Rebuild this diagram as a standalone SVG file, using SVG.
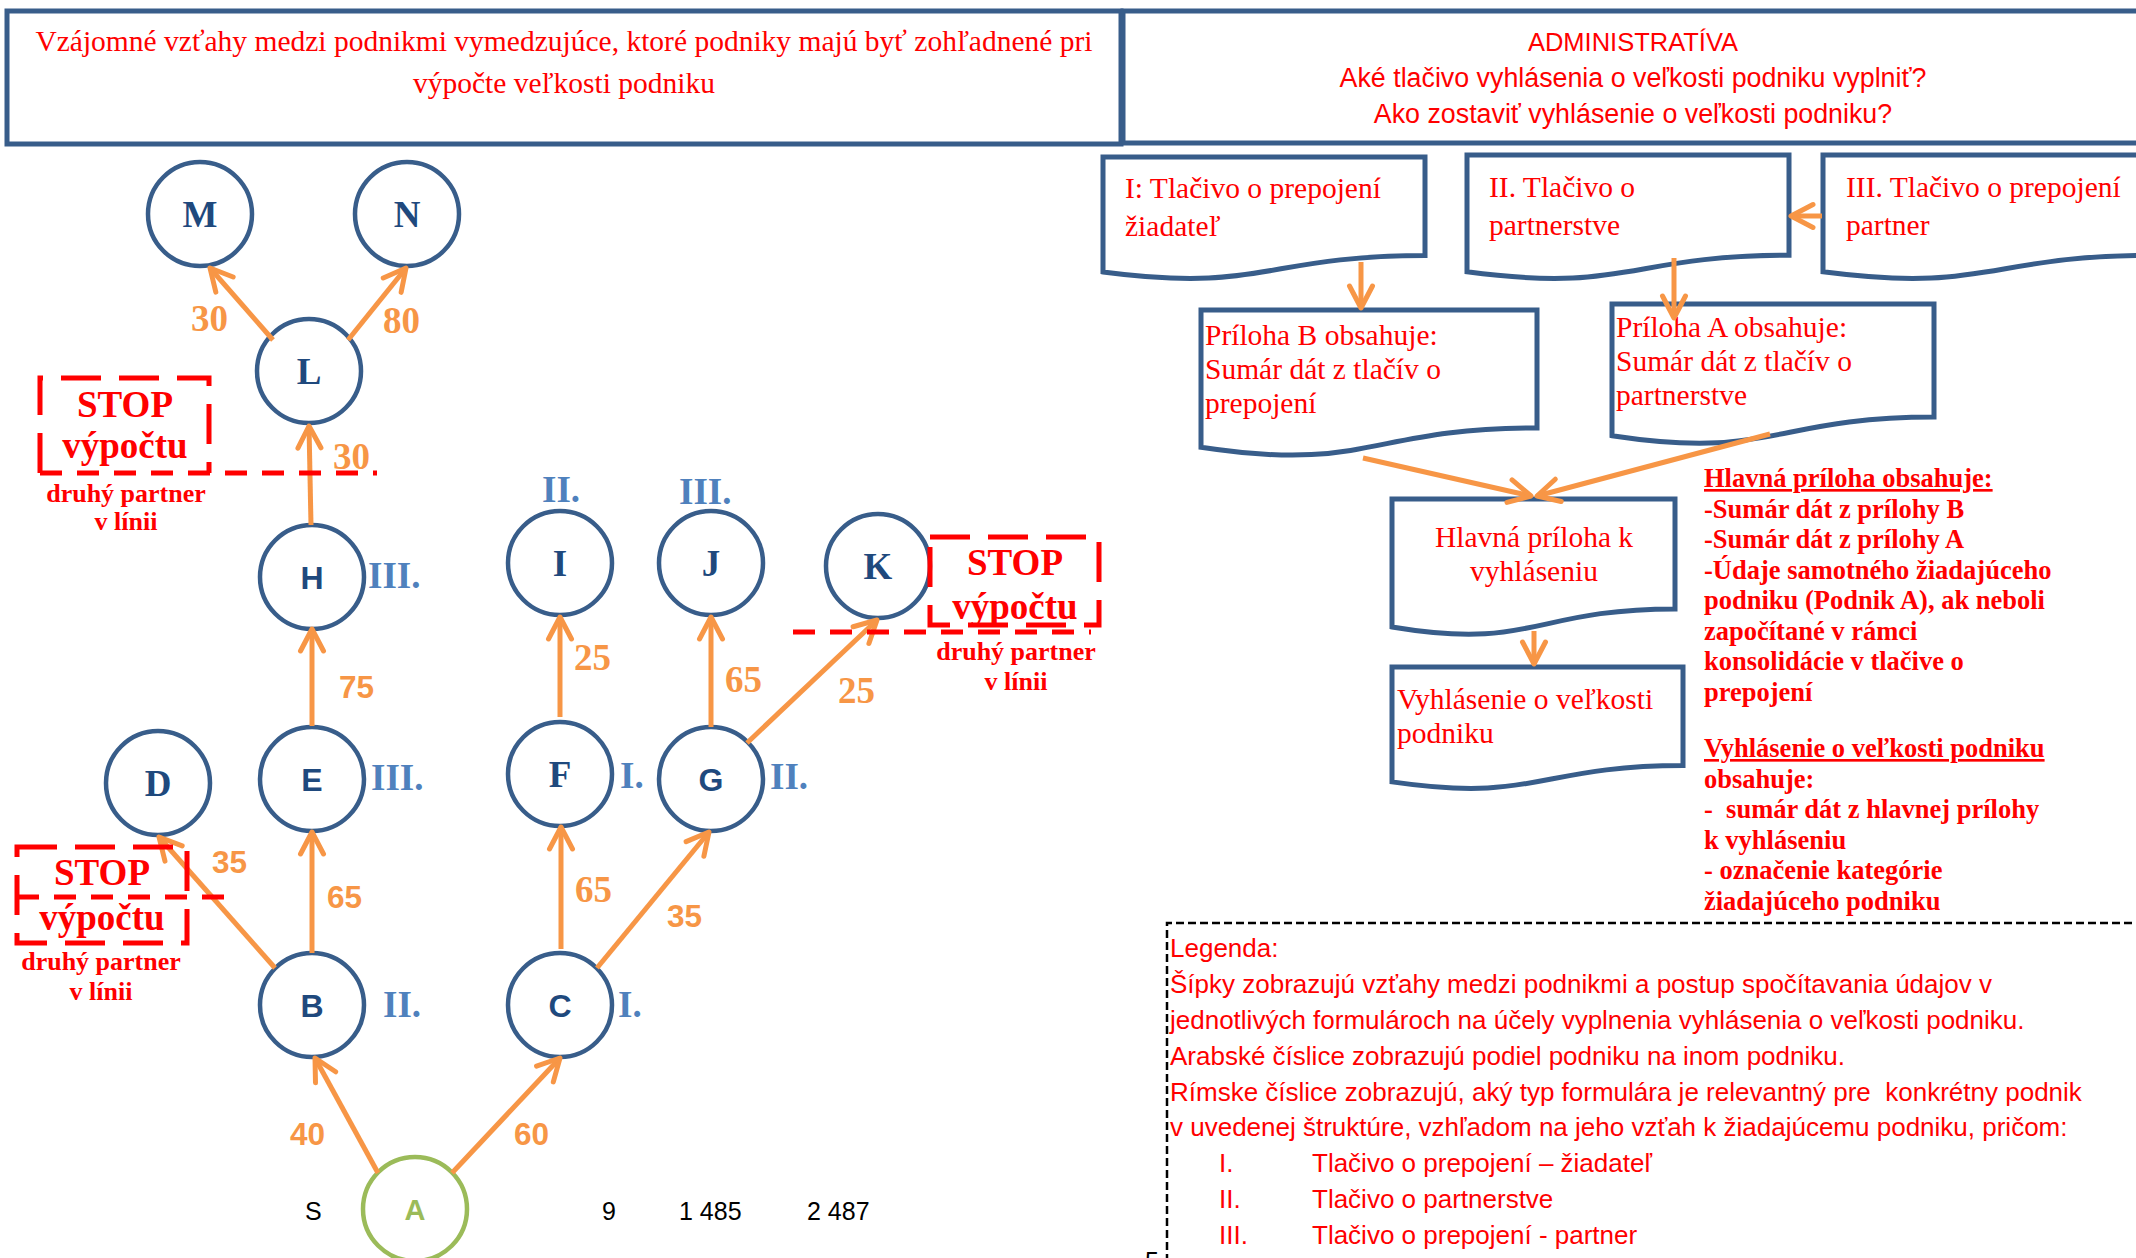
<svg xmlns="http://www.w3.org/2000/svg" width="2136" height="1258" viewBox="0 0 2136 1258">
<style>
.hdr{fill:none;stroke:#385d8a;stroke-width:5}
.doc{fill:#fff;stroke:#385d8a;stroke-width:5}
.nc{fill:#fff;stroke:#385d8a;stroke-width:4.5}
.na{fill:#fff;stroke:#9bbb59;stroke-width:4.5}
.lt{font-family:"Liberation Serif",serif;font-weight:bold;font-size:37px;fill:#1f497d;text-anchor:middle}
.ls{font-family:"Liberation Sans",sans-serif;font-weight:bold;font-size:32px;fill:#1f497d;text-anchor:middle}
.rn{font-family:"Liberation Serif",serif;font-weight:bold;font-size:37px;fill:#4f81bd}
.edge{stroke:#f79646;stroke-width:5;fill:none;marker-end:url(#ah)}
.et{font-family:"Liberation Serif",serif;font-weight:bold;font-size:37px;fill:#f79646}
.es{font-family:"Liberation Sans",sans-serif;font-weight:bold;font-size:31.5px;fill:#f79646}
.sr{fill:none;stroke:#ff0000;stroke-width:5;stroke-dasharray:40 18}
.sl{fill:none;stroke:#ff0000;stroke-width:5;stroke-dasharray:22 15}
.st{font-family:"Liberation Serif",serif;font-weight:bold;font-size:37px;fill:#ff0000;text-anchor:middle}
.ss{font-family:"Liberation Serif",serif;font-weight:bold;font-size:26px;fill:#ff0000;text-anchor:middle}
.serif{font-family:"Liberation Serif",serif;font-size:29.5px;fill:#ff0000}
.sans{font-family:"Liberation Sans",sans-serif;font-size:26px;fill:#ff0000}
.rb{font-family:"Liberation Serif",serif;font-weight:bold;font-size:26.5px;fill:#ff0000}
.blk{font-family:"Liberation Sans",sans-serif;font-size:25px;fill:#000}
</style>
<defs>
<marker id="ah" markerUnits="userSpaceOnUse" markerWidth="50" markerHeight="50" viewBox="-30 -25 50 50" refX="0" refY="0" orient="auto" overflow="visible">
<path d="M-22,-11.5 L0,0 L-22,11.5" fill="none" stroke="#f79646" stroke-width="5" stroke-linecap="round" stroke-linejoin="round"/>
</marker>
</defs>
<rect width="2136" height="1258" fill="#fff"/>

<g id="header-left">
<rect class="hdr" x="7" y="11" width="1114" height="133"/>
<text class="serif" x="564" y="51" text-anchor="middle">Vzájomné vzťahy medzi podnikmi vymedzujúce, ktoré podniky majú byť zohľadnené pri</text>
<text class="serif" x="564" y="93" text-anchor="middle">výpočte veľkosti podniku</text>
</g>
<g id="header-right">
<rect class="hdr" x="1123" y="11" width="1030" height="132"/>
<text class="sans" x="1633" y="51" text-anchor="middle" style="font-size:25.5px">ADMINISTRATÍVA</text>
<text class="sans" x="1633" y="87" text-anchor="middle" style="font-size:26.8px">Aké tlačivo vyhlásenia o veľkosti podniku vyplniť?</text>
<text class="sans" x="1633" y="123" text-anchor="middle" style="font-size:26.8px">Ako zostaviť vyhlásenie o veľkosti podniku?</text>
</g>

<g id="doc-I">
<path class="doc" d="M1103,157 H1425 V255.6 C1264,255.6 1264,293.2 1103,271.9 Z"/>
<text class="serif" x="1125" y="198">I: Tlačivo o prepojení</text>
<text class="serif" x="1125" y="236">žiadateľ</text>
</g>
<g id="doc-II">
<path class="doc" d="M1467,155 H1789 V255.3 C1628,255.3 1628,293.4 1467,271.8 Z"/>
<text class="serif" x="1489" y="197">II. Tlačivo o</text>
<text class="serif" x="1489" y="235">partnerstve</text>
</g>
<g id="doc-III">
<path class="doc" d="M1823,155 H2153 V255.3 C1988,255.3 1988,293.4 1823,271.8 Z"/>
<text class="serif" x="1846" y="197">III. Tlačivo o prepojení</text>
<text class="serif" x="1846" y="235">partner</text>
</g>
<g id="priloha-B">
<path class="doc" d="M1201,310 H1537 V427.9 C1369,427.9 1369,472.8 1201,447.3 Z"/>
<text class="serif" x="1205" y="345">Príloha B obsahuje:</text>
<text class="serif" x="1205" y="379">Sumár dát z tlačív o</text>
<text class="serif" x="1205" y="413">prepojení</text>
</g>
<g id="priloha-A">
<path class="doc" d="M1612,304 H1934 V417.1 C1773,417.1 1773,460.2 1612,435.7 Z"/>
<text class="serif" x="1616" y="337">Príloha A obsahuje:</text>
<text class="serif" x="1616" y="371">Sumár dát z tlačív o</text>
<text class="serif" x="1616" y="405">partnerstve</text>
</g>
<g id="hlavna-priloha">
<path class="doc" d="M1392,499 H1675 V608.9 C1533.5,608.9 1533.5,650.7 1392,627 Z"/>
<text class="serif" x="1534" y="547" text-anchor="middle">Hlavná príloha k</text>
<text class="serif" x="1534" y="581" text-anchor="middle">vyhláseniu</text>
</g>
<g id="vyhlasenie">
<path class="doc" d="M1392,667 H1683 V765.6 C1537.5,765.6 1537.5,803.2 1392,781.9 Z"/>
<text class="serif" x="1397" y="709">Vyhlásenie o veľkosti</text>
<text class="serif" x="1397" y="743">podniku</text>
</g>

<g id="node-M"><circle class="nc" cx="200" cy="214" r="52"/><text class="lt" x="200" y="227">M</text></g>
<g id="node-N"><circle class="nc" cx="407" cy="214" r="52"/><text class="lt" x="407" y="227">N</text></g>
<g id="node-L"><circle class="nc" cx="309" cy="371" r="52"/><text class="lt" x="309" y="384">L</text></g>
<g id="node-H"><circle class="nc" cx="312" cy="577" r="52"/><text class="ls" x="312" y="589">H</text></g>
<g id="node-E"><circle class="nc" cx="312" cy="779" r="52"/><text class="ls" x="312" y="791">E</text></g>
<g id="node-D"><circle class="nc" cx="158" cy="783" r="52"/><text class="lt" x="158" y="796">D</text></g>
<g id="node-B"><circle class="nc" cx="312" cy="1005" r="52"/><text class="ls" x="312" y="1017">B</text></g>
<g id="node-C"><circle class="nc" cx="560" cy="1005" r="52"/><text class="ls" x="560" y="1017">C</text></g>
<g id="node-F"><circle class="nc" cx="560" cy="774" r="52"/><text class="lt" x="560" y="787">F</text></g>
<g id="node-G"><circle class="nc" cx="711" cy="779" r="52"/><text class="ls" x="711" y="791">G</text></g>
<g id="node-I"><circle class="nc" cx="560" cy="563" r="52"/><text class="lt" x="560" y="576">I</text></g>
<g id="node-J"><circle class="nc" cx="711" cy="563" r="52"/><text class="lt" x="711" y="576">J</text></g>
<g id="node-K"><circle class="nc" cx="878" cy="566" r="52"/><text class="lt" x="878" y="579">K</text></g>
<g id="node-A"><circle class="na" cx="415" cy="1209" r="52"/><text class="ls" x="415" y="1220" style="fill:#9bbb59;font-size:29px">A</text></g>

<g id="roman">
<text class="rn" x="542" y="502">II.</text>
<text class="rn" x="679" y="504">III.</text>
<text class="rn" x="368" y="588">III.</text>
<text class="rn" x="371" y="790">III.</text>
<text class="rn" x="383" y="1017">II.</text>
<text class="rn" x="618" y="1017">I.</text>
<text class="rn" x="620" y="788">I.</text>
<text class="rn" x="770" y="789">II.</text>
</g>

<g id="connectors">
<line class="edge" x1="273" y1="340" x2="210" y2="268"/>
<line class="edge" x1="348" y1="340" x2="406" y2="268"/>
<line class="edge" x1="311" y1="525" x2="309" y2="426"/>
<line class="edge" x1="312" y1="726" x2="312" y2="629"/>
<line class="edge" x1="312" y1="953" x2="312" y2="832"/>
<line class="edge" x1="275" y1="968" x2="159" y2="837"/>
<line class="edge" x1="378" y1="1173" x2="315" y2="1058"/>
<line class="edge" x1="452" y1="1173" x2="560" y2="1058"/>
<line class="edge" x1="561" y1="949" x2="561" y2="827"/>
<line class="edge" x1="597" y1="968" x2="709" y2="832"/>
<line class="edge" x1="560" y1="717" x2="560" y2="617"/>
<line class="edge" x1="711" y1="727" x2="711" y2="617"/>
<line class="edge" x1="747" y1="743" x2="877" y2="620"/>
<line class="edge" x1="1822" y1="216" x2="1791" y2="216"/>
<line class="edge" x1="1361" y1="262" x2="1361" y2="308"/>
<line class="edge" x1="1674" y1="258" x2="1674" y2="318"/>
<line class="edge" x1="1363" y1="458" x2="1531" y2="496"/>
<line class="edge" x1="1770" y1="434" x2="1537" y2="496"/>
<line class="edge" x1="1534" y1="631" x2="1534" y2="664"/>
<text class="et" x="191" y="331">30</text>
<text class="et" x="383" y="333">80</text>
<text class="et" x="333" y="469">30</text>
<text class="es" x="339" y="698">75</text>
<text class="es" x="327" y="908">65</text>
<text class="es" x="212" y="873">35</text>
<text class="es" x="290" y="1145">40</text>
<text class="es" x="514" y="1145">60</text>
<text class="et" x="575" y="902">65</text>
<text class="es" x="667" y="927">35</text>
<text class="et" x="574" y="670">25</text>
<text class="et" x="725" y="692">65</text>
<text class="et" x="838" y="703">25</text>
</g>

<g id="stop-L">
<path class="sr" d="M40,473 V378 H209 V473"/>
<line class="sl" x1="40" y1="473" x2="377" y2="473"/>
<text class="st" x="125" y="417">STOP</text>
<text class="st" x="125" y="458">výpočtu</text>
<text class="ss" x="126" y="502">druhý partner</text>
<text class="ss" x="126" y="530">v línii</text>
</g>
<g id="stop-K">
<rect class="sr" x="930" y="537" width="169" height="88"/>
<line class="sl" x1="793" y1="632" x2="1091" y2="632"/>
<text class="st" x="1015" y="575">STOP</text>
<text class="st" x="1015" y="619">výpočtu</text>
<text class="ss" x="1016" y="660">druhý partner</text>
<text class="ss" x="1016" y="690">v línii</text>
</g>
<g id="stop-D">
<rect class="sr" x="17" y="847" width="170" height="96"/>
<line class="sl" x1="17" y1="897" x2="227" y2="897"/>
<text class="st" x="102" y="885">STOP</text>
<text class="st" x="102" y="930">výpočtu</text>
<text class="ss" x="101" y="970">druhý partner</text>
<text class="ss" x="101" y="1000">v línii</text>
</g>

<g id="notes">
<text class="rb" x="1704" y="487" text-decoration="underline">Hlavná príloha obsahuje:</text>
<text class="rb" x="1704" y="517.5">-Sumár dát z prílohy B</text>
<text class="rb" x="1704" y="548">-Sumár dát z prílohy A</text>
<text class="rb" x="1704" y="578.5">-Údaje samotného žiadajúceho</text>
<text class="rb" x="1704" y="609">podniku (Podnik A), ak neboli</text>
<text class="rb" x="1704" y="639.5">započítané v rámci</text>
<text class="rb" x="1704" y="670">konsolidácie v tlačive o</text>
<text class="rb" x="1704" y="700.5">prepojení</text>
<text class="rb" x="1704" y="757" text-decoration="underline">Vyhlásenie o veľkosti podniku</text>
<text class="rb" x="1704" y="787.5">obsahuje:</text>
<text class="rb" x="1704" y="818" xml:space="preserve">-  sumár dát z hlavnej prílohy</text>
<text class="rb" x="1704" y="848.5">k vyhláseniu</text>
<text class="rb" x="1704" y="879">- označenie kategórie</text>
<text class="rb" x="1704" y="909.5">žiadajúceho podniku</text>
</g>

<g id="legend">
<path d="M1167,1262 V923 H2140" fill="none" stroke="#000" stroke-width="2.5" stroke-dasharray="8 4"/>
<text class="sans" x="1170" y="957">Legenda:</text>
<text class="sans" x="1170" y="993">Šípky zobrazujú vzťahy medzi podnikmi a postup spočítavania údajov v</text>
<text class="sans" x="1170" y="1029">jednotlivých formulároch na účely vyplnenia vyhlásenia o veľkosti podniku.</text>
<text class="sans" x="1170" y="1065">Arabské číslice zobrazujú podiel podniku na inom podniku.</text>
<text class="sans" x="1170" y="1101" xml:space="preserve">Rímske číslice zobrazujú, aký typ formulára je relevantný pre  konkrétny podnik</text>
<text class="sans" x="1170" y="1136">v uvedenej štruktúre, vzhľadom na jeho vzťah k žiadajúcemu podniku, pričom:</text>
<text class="sans" x="1219" y="1172">I.</text>
<text class="sans" x="1312" y="1172">Tlačivo o prepojení – žiadateľ</text>
<text class="sans" x="1219" y="1208">II.</text>
<text class="sans" x="1312" y="1208">Tlačivo o partnerstve</text>
<text class="sans" x="1219" y="1244">III.</text>
<text class="sans" x="1312" y="1244">Tlačivo o prepojení - partner</text>
</g>

<g id="bottom-texts">
<text class="blk" x="305" y="1220">S</text>
<text class="blk" x="602" y="1220">9</text>
<text class="blk" x="679" y="1220">1 485</text>
<text class="blk" x="807" y="1220">2 487</text>
<text class="blk" x="1145" y="1270">5</text>
</g>
</svg>
